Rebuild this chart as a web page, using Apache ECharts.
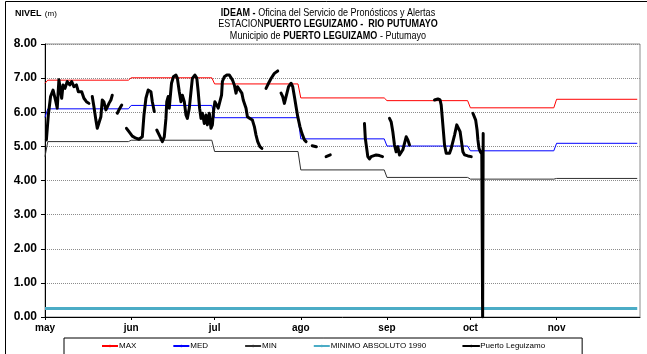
<!DOCTYPE html>
<html>
<head>
<meta charset="utf-8">
<script src="https://cdn.jsdelivr.net/npm/echarts@6/dist/echarts.min.js"></script>
<style>
  html, body { margin: 0; padding: 0; background: #fff; }
  #chart { width: 647px; height: 354px; }
</style>
</head>
<body>
<div id="chart"></div>
<script>
// meses del eje X (dias contados desde el 1 de mayo)
const meses = ['may', 'jun', 'jul', 'ago', 'sep', 'oct', 'nov']
const inicioMes = [0, 31, 61, 92, 123, 153, 184]
const finPeriodo = 213

// umbrales mensuales
const maxMes = [6.94, 7.01, 6.83, 6.42, 6.34, 6.13, 6.38]
const medMes = [6.10, 6.20, 5.84, 5.22, 5.01, 4.87, 5.09]
const minMes = [5.14, 5.18, 4.85, 4.31, 4.09, 4.04, 4.06]
const primerDia = [6.85, 5.85, 4.70] // max, med, min del dia 1
const minimoAbsoluto = 0.25

// nivel observado Puerto Leguizamo (null = sin dato)
const nivelDias = [
  0.5, 1.2, 2.0, 2.9, 3.9, 4.4, 5.0, 5.7, 6.0, 6.5, 7.2, 8.0, 8.9, 9.6, 10.4, 11.3, 12.0, 12.5, 13.2, 14.0, 14.9, 15.8, 16.3,
  17.0, 17.6, 18.3, 18.8, 19.4, 20.1, 20.6, 21.2, 21.9, 22.4, 23.0, 23.7, 24.2, 25.0,
  26.0, 26.6, 27.6, 28.5,
  29.3, 30.2, 31.4, 32.7, 33.8, 35.0, 35.6, 36.3, 37.1, 38.1, 38.6, 39.3, 39.8,
  40.2, 41.1, 42.2, 42.9, 43.5, 43.8, 44.3, 44.7, 45.0, 45.5, 46.2, 47.1, 47.6, 48.3, 48.9, 49.4, 50.1, 50.7, 51.2, 51.9,
  52.5, 53.0, 53.9, 54.6, 55.1, 55.6, 56.1, 56.6, 57.3, 57.9, 58.4, 59.1, 59.7, 60.2, 60.6, 61.1, 61.8, 62.3, 63.0, 63.5,
  63.8, 64.5, 65.4, 66.3, 67.4, 68.1, 68.7, 69.2, 69.9, 70.8, 71.3, 72.3, 72.8, 73.7, 74.6, 75.3, 75.9, 76.5, 77.3, 78.0, 78.8,
  79.5, 80.4, 81.3, 82.5, 83.7, 84.3,
  84.9, 85.5, 86.1, 86.7, 87.6, 88.5, 89.1, 89.7, 90.3, 90.9, 91.7, 92.4, 93.3, 93.9, 95.0,
  96.1, 97.6, 99.0,
  101.1, 102.6, 108.0,
  114.9, 115.2, 115.7, 116.1, 116.7, 117.3, 117.9, 119.1, 120.3, 121.4, 122.5,
  123.9, 124.5, 125.1, 125.7, 126.3, 126.9, 127.5, 128.1, 128.7, 129.3, 129.9, 130.5, 131.1, 135.0,
  140.1, 141.3, 142.1, 142.5, 142.9, 143.3, 143.7, 144.3, 144.9, 145.5, 146.1, 147.3, 148.1, 148.8, 149.3, 149.8,
  150.3, 150.9, 151.5, 152.1, 152.7, 153.3, 153.6,
  153.9, 154.9, 155.4, 155.7, 156.1, 156.6, 157.1, 157.4, 157.6
]
const nivelValores = [
  5.19, 5.92, 6.46, 6.65, 6.31, 6.12, 6.95, 6.90, 6.41, 6.80, 6.70, 6.90, 6.80, 6.90, 6.75, 6.80, 6.60, 6.55, 6.60, 6.41, 6.31, 6.26, null,
  6.46, 6.16, 5.77, 5.53, 5.48, 5.87, 6.36, 6.30, 6.07, 6.15, 6.26, 6.36, 6.50, null,
  5.97, 6.07, 6.21, null,
  5.53, 5.43, 5.30, 5.24, 5.21, 5.28, 5.92, 6.41, 6.65, 6.60, 6.31, 6.02, null,
  5.48, 5.33, 5.14, 5.28, 5.82, 6.31, 6.46, 6.12, 6.41, 6.85, 7.04, 7.09, 7.00, 6.60, 6.31, 6.50, 6.31, 5.92, 5.82, 6.12,
  6.60, 6.99, 7.09, 7.00, 6.60, 6.12, 5.82, 5.97, 5.67, 5.92, 5.63, 5.97, 5.53, 5.63, 6.02, 6.31, 6.36, 6.12, 6.17, 6.50,
  6.90, 7.04, 7.09, 7.09, 6.95, 6.80, 6.56, 6.75, 6.80, 6.56, 6.36, 6.12, 5.87, 5.82, 5.77, 5.58, 5.33, 5.14, 4.99, 4.94, null,
  6.70, 6.85, 6.99, 7.14, 7.21, null,
  6.56, 6.46, 6.26, 6.46, 6.75, 6.85, 6.75, 6.46, 6.16, 5.87, 5.58, 5.38, 5.19, 5.14, null,
  5.02, 4.99, null,
  4.70, 4.75, null,
  5.67, 5.24, 4.94, 4.70, 4.63, 4.70, 4.68, 4.75, 4.73, 4.70, null,
  5.82, 5.72, 5.43, 5.04, 4.84, 4.99, 4.75, 4.70, 4.90, 5.09, 5.28, 5.19, 5.04, null,
  6.36, 6.39, 6.36, 6.21, 5.82, 5.43, 5.04, 4.80, 4.75, 4.80, 4.94, 5.33, 5.63, 5.67, 5.43, 5.14,
  4.84, 4.75, 4.80, 4.72, 4.70, 4.70, null,
  5.97, 5.77, 5.48, 5.19, 4.94, 4.84, 4.78, 0.00, 5.38
]

function escalones(primero, valores) {
  const datos = [[0, primero]]
  valores.forEach((v, i) => {
    const desde = i === 0 ? 1 : inicioMes[i]
    const hasta = i + 1 < inicioMes.length ? inicioMes[i + 1] - 1 : finPeriodo
    datos.push([desde, v], [hasta, v])
  })
  return datos
}

const fuente = '"Liberation Sans", Arial, sans-serif'
const myChart = echarts.init(document.getElementById('chart'))

const option = {
  animation: false,
  backgroundColor: '#fff',
  textStyle: { fontFamily: fuente },
  graphic: [
    {
      type: 'rect', silent: true, z: -1,
      shape: { x: 5.5, y: 1.5, width: 660, height: 400 },
      style: { fill: 'none', stroke: '#000', lineWidth: 1 }
    },
    {
      type: 'text', left: 15, top: 8,
      style: {
        text: '{b|NIVEL} {n|(m)}',
        rich: {
          b: { fontFamily: fuente, fontSize: 9, fontWeight: 'bold', fill: '#000' },
          n: { fontFamily: fuente, fontSize: 8, fill: '#000' }
        }
      }
    },
    {
      // titulo en letra estrecha: se comprime en horizontal
      type: 'group', x: 328, y: 7, scaleX: 0.82,
      children: [
        '{b|IDEAM -} {n|Oficina del Servicio de Pronósticos y Alertas}',
        '{n|ESTACION}{b|PUERTO LEGUIZAMO -  RIO PUTUMAYO}',
        '{n|Municipio de} {b|PUERTO LEGUIZAMO} {n|- Putumayo}'
      ].map((t, i) => ({
        type: 'text', x: 0, y: i * 11.5,
        style: {
          text: t, align: 'center',
          rich: {
            b: { fontFamily: fuente, fontSize: 11, fontWeight: 'bold', fill: '#000' },
            n: { fontFamily: fuente, fontSize: 11, fill: '#000' }
          }
        }
      }))
    }
  ],
  grid: {
    left: 45, right: 7, top: 44, bottom: 37,
    show: true, borderColor: '#8c8c8c', borderWidth: 1
  },
  legend: {
    left: 64, top: 338,
    padding: [4, 37, 10, 37],
    itemGap: 36, itemWidth: 16, itemHeight: 3,
    borderColor: '#000', borderWidth: 1,
    textStyle: { fontFamily: fuente, fontSize: 8, color: '#000', padding: [0, 0, 0, -4] },
    data: ['MAX', 'MED', 'MIN', 'MINIMO ABSOLUTO 1990', 'Puerto Leguizamo']
  },
  xAxis: {
    type: 'value', min: 0, max: 214,
    axisLine: { lineStyle: { color: '#000', width: 1 } },
    axisTick: { customValues: inicioMes, length: 3, lineStyle: { color: '#000' } },
    axisLabel: {
      customValues: inicioMes,
      formatter: v => meses[inicioMes.indexOf(v)],
      fontFamily: fuente, fontSize: 10, fontWeight: 'bold', color: '#000', margin: 6
    },
    splitLine: { show: false }
  },
  yAxis: {
    type: 'value', min: 0, max: 8, interval: 1,
    axisLine: { show: true, lineStyle: { color: '#000', width: 1 } },
    axisTick: { show: true, length: 4, lineStyle: { color: '#000' } },
    axisLabel: {
      formatter: v => v.toFixed(2),
      fontFamily: fuente, fontSize: 12, fontWeight: 'bold', color: '#000', margin: 8
    },
    splitLine: { lineStyle: { color: '#8c8c8c', type: 'dotted', width: 1 } }
  },
  series: [
    {
      name: 'MAX', type: 'line', symbol: 'none',
      data: escalones(primerDia[0], maxMes),
      lineStyle: { color: '#ff0000', width: 1 }, itemStyle: { color: '#ff0000' }
    },
    {
      name: 'MED', type: 'line', symbol: 'none',
      data: escalones(primerDia[1], medMes),
      lineStyle: { color: '#0000ff', width: 1 }, itemStyle: { color: '#0000ff' }
    },
    {
      name: 'MIN', type: 'line', symbol: 'none',
      data: escalones(primerDia[2], minMes),
      lineStyle: { color: '#303030', width: 1 }, itemStyle: { color: '#303030' }
    },
    {
      name: 'MINIMO ABSOLUTO 1990', type: 'line', symbol: 'none',
      data: [[0, minimoAbsoluto], [finPeriodo, minimoAbsoluto]],
      lineStyle: { color: '#4bacc6', width: 3 }, itemStyle: { color: '#4bacc6' }
    },
    {
      name: 'Puerto Leguizamo', type: 'line', symbol: 'none', z: 5,
      connectNulls: false,
      data: nivelDias.map((d, i) => [d, nivelValores[i]]),
      lineStyle: { color: '#000', width: 3, join: 'round', cap: 'round' }, itemStyle: { color: '#000' }
    }
  ]
}

myChart.setOption(option)
</script>
</body>
</html>
